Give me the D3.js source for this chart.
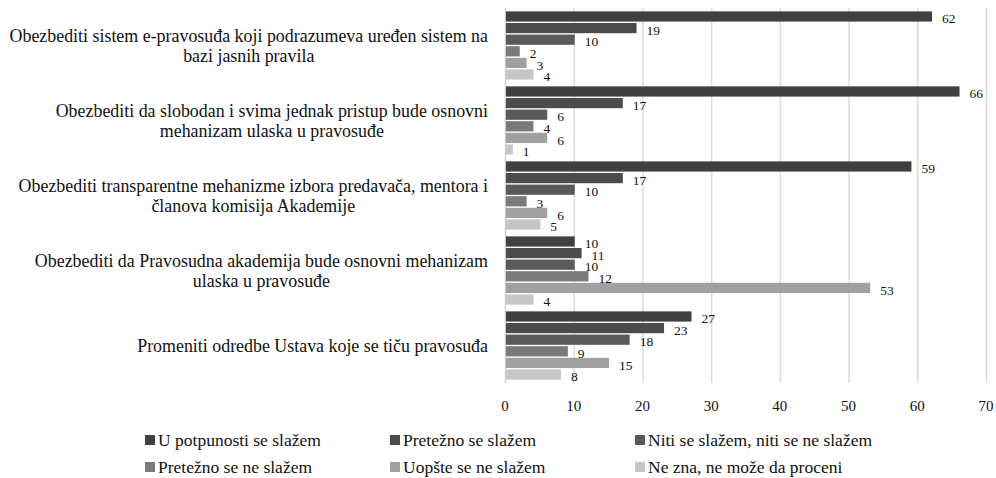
<!DOCTYPE html>
<html>
<head>
<meta charset="utf-8">
<script src="https://cdn.jsdelivr.net/npm/d3@7"></script>
<style>
    body { margin: 0; background: #fff; }
    svg { display: block; font-family: "Liberation Serif", "DejaVu Serif", serif; }
</style>
</head>
<body>
<div id="chart-container"></div>
<script>
const categories = [
    ["Obezbediti sistem e-pravosuđa koji podrazumeva uređen sistem na", "bazi jasnih pravila"],
    ["Obezbediti da slobodan i svima jednak pristup bude osnovni", "mehanizam ulaska u pravosuđe"],
    ["Obezbediti transparentne mehanizme izbora predavača, mentora i", "članova komisija Akademije"],
    ["Obezbediti da Pravosudna akademija bude osnovni mehanizam", "ulaska u pravosuđe"],
    ["Promeniti odredbe Ustava koje se tiču pravosuđa"]
];
const seriesNames = [
    "U potpunosti se slažem",
    "Pretežno se slažem",
    "Niti se slažem, niti se ne slažem",
    "Pretežno se ne slažem",
    "Uopšte se ne slažem",
    "Ne zna, ne može da proceni"
];
// values per category, one entry for each series
const values = [
    [62, 19, 10, 2, 3, 4],
    [66, 17, 6, 4, 6, 1],
    [59, 17, 10, 3, 6, 5],
    [10, 11, 10, 12, 53, 4],
    [27, 23, 18, 9, 15, 8]
];
const xTicks = [0, 10, 20, 30, 40, 50, 60, 70];
const colors = ["#404040", "#4b4b4b", "#5a5a5a", "#7a7a7a", "#a0a0a0", "#c6c6c6"];

const width = 996;
const height = 478;
const margin = ({top: 8, right: 10, bottom: 95, left: 505});

const svg = d3.select("#chart-container")
    .append("svg")
    .attr("width", width)
    .attr("height", height);

const x = d3.scaleLinear()
    .domain([0, 70])
    .range([margin.left, 986]);

const y0 = d3.scaleBand()
    .domain(d3.range(categories.length))
    .range([margin.top, height - margin.bottom])
    .paddingInner(0.09)
    .paddingOuter(0.045);

const y1 = d3.scaleBand()
    .domain(d3.range(seriesNames.length))
    .range([0, y0.bandwidth()])
    .paddingInner(0.12);

// gridlines
svg.append("g")
    .attr("class", "grid")
    .selectAll("line")
    .data(xTicks)
    .join("line")
    .attr("x1", d => x(d) + 0.5)
    .attr("x2", d => x(d) + 0.5)
    .attr("y1", margin.top)
    .attr("y2", height - margin.bottom)
    .attr("stroke", d => d === 0 ? "#cfcfcf" : "#dcdcdc")
    .attr("stroke-width", 1.5);

// bars
const groups = svg.append("g")
    .attr("class", "bars")
    .selectAll("g")
    .data(values)
    .join("g")
    .attr("transform", (d, i) => `translate(0,${y0(i)})`);

groups.selectAll("rect")
    .data(d => d.map((v, s) => ({value: v, series: s})))
    .join("rect")
    .attr("x", x(0) + 1)
    .attr("y", d => y1(d.series))
    .attr("width", d => x(d.value) - x(0))
    .attr("height", y1.bandwidth())
    .attr("fill", d => colors[d.series]);

groups.selectAll("text")
    .data(d => d.map((v, s) => ({value: v, series: s})))
    .join("text")
    .attr("x", d => x(d.value) + 11)
    .attr("y", d => y1(d.series) + y1.bandwidth() / 2 + 2)
    .attr("dy", "0.35em")
    .attr("font-size", 13.5)
    .attr("fill", "#111")
    .text(d => d.value);

// category labels
const catLabels = svg.append("g")
    .attr("class", "y-axis")
    .selectAll("text")
    .data(categories)
    .join("text")
    .attr("text-anchor", "middle")
    .attr("font-size", 17.9)
    .attr("fill", "#111")
    .attr("y", (d, i) => y0(i) + y0.bandwidth() / 2 - (d.length - 1) * 10)
    .attr("dy", "0.35em");

catLabels.selectAll("tspan")
    .data(d => d)
    .join("tspan")
    .attr("x", 0)
    .attr("dy", (d, i) => i === 0 ? "0.35em" : 20)
    .text(d => d);

// align each block so its widest line ends at x = 488
catLabels.each(function() {
    const bbox = this.getBBox();
    d3.select(this).selectAll("tspan").attr("x", 488 - bbox.width / 2);
});

// x axis labels
svg.append("g")
    .attr("class", "x-axis")
    .selectAll("text")
    .data(xTicks)
    .join("text")
    .attr("x", d => x(d))
    .attr("y", 406)
    .attr("dy", "0.35em")
    .attr("text-anchor", "middle")
    .attr("font-size", 15)
    .attr("fill", "#111")
    .text(d => d);

// legend
const legend = svg.append("g")
    .attr("class", "legend")
    .selectAll("g")
    .data(seriesNames)
    .join("g")
    .attr("transform", (d, i) => `translate(${145 + (i % 3) * 245},${i < 3 ? 440 : 467})`);

legend.append("rect")
    .attr("x", 0)
    .attr("y", -5)
    .attr("width", 10)
    .attr("height", 10)
    .attr("fill", (d, i) => colors[i]);

legend.append("text")
    .attr("x", 13)
    .attr("dy", "0.35em")
    .attr("font-size", 17.5)
    .attr("fill", "#111")
    .text(d => d);
</script>
</body>
</html>
